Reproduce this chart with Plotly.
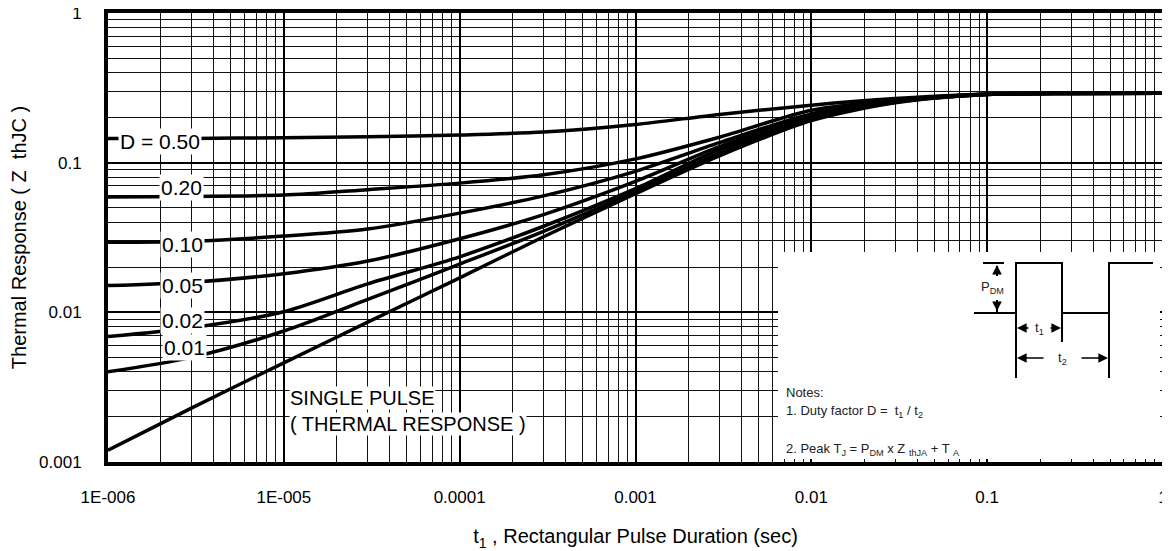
import plotly.graph_objects as go

# ---------------- data ----------------
t_sec = [1e-6, 3e-6, 1e-5, 3e-5, 1e-4, 3e-4, 1e-3, 3e-3, 1e-2, 3e-2, 1e-1, 3e-1, 1.0]

z_d050 = [0.145, 0.145, 0.147, 0.149, 0.153, 0.160, 0.180, 0.210, 0.242, 0.268, 0.288, 0.291, 0.291]
z_d020 = [0.059, 0.0595, 0.0607, 0.066, 0.073, 0.083, 0.106, 0.148, 0.224, 0.262, 0.287, 0.291, 0.291]
z_d010 = [0.0294, 0.0299, 0.0323, 0.036, 0.046, 0.060, 0.0875, 0.136, 0.212, 0.259, 0.286, 0.290, 0.291]
z_d005 = [0.0151, 0.0159, 0.0181, 0.022, 0.031, 0.045, 0.075, 0.128, 0.205, 0.257, 0.286, 0.290, 0.291]
z_d002 = [0.0069, 0.0079, 0.0101, 0.0155, 0.0235, 0.0376, 0.067, 0.122, 0.199, 0.255, 0.285, 0.290, 0.291]
z_d001 = [0.0040, 0.0050, 0.0075, 0.0122, 0.021, 0.0348, 0.064, 0.116, 0.195, 0.253, 0.285, 0.290, 0.291]
z_single = [0.0012, 0.0023, 0.0046, 0.0086, 0.017, 0.032, 0.062, 0.111, 0.191, 0.251, 0.285, 0.290, 0.291]

series = [("D = 0.50", z_d050), ("0.20", z_d020), ("0.10", z_d010), ("0.05", z_d005),
          ("0.02", z_d002), ("0.01", z_d001), ("SINGLE PULSE", z_single)]

x_tickvals = [1e-6, 1e-5, 1e-4, 1e-3, 1e-2, 1e-1, 1]
x_ticktext = ["1E-006", "1E-005", "0.0001", "0.001", "0.01", "0.1", "1"]
y_tickvals = [0.001, 0.01, 0.1, 1]
y_ticktext = ["0.001", "0.01", "0.1", "1"]

x_minor = [m * 10 ** e for e in range(-6, 0) for m in range(2, 10)]
y_minor = [m * 10 ** e for e in range(-3, 0) for m in range(2, 10)]

FONT = "Arial, Liberation Sans, sans-serif"

# page body has an 8px margin: shrink the figure and shift everything accordingly
OFF = 8
W, H = 1170 - OFF, 551 - OFF
L, R, T, B = 108 - OFF, 1163 - OFF, 13 - OFF, 462 - OFF

# ---------------- figure ----------------
fig = go.Figure()
for name, z in series:
    fig.add_trace(go.Scatter(x=t_sec, y=z, mode="lines", name=name,
                             line=dict(color="black", width=3.5, shape="spline", smoothing=0.8),
                             showlegend=False, hoverinfo="skip"))


def px(xp, yp):
    """reference-screen pixel -> paper fraction"""
    xp -= OFF
    yp -= OFF
    return (xp - L) / (R - L), (B - yp) / (B - T)


fig.update_layout(
    width=W, height=H,
    margin=dict(l=L, r=W - R, t=T, b=H - B, autoexpand=False),
    paper_bgcolor="white", plot_bgcolor="white",
    font=dict(family=FONT, size=17, color="black"),
)

fig.update_xaxes(
    type="log", range=[-6, 0.00001], automargin=False, ticklabeloverflow="allow",
    tickmode="array", tickvals=x_tickvals, ticktext=x_ticktext,
    ticks="outside", ticklen=17, tickcolor="rgba(0,0,0,0)",
    tickfont=dict(size=17),
    showgrid=True, gridcolor="black", gridwidth=2,
    minor=dict(tickmode="array", tickvals=x_minor, showgrid=True, gridcolor="#111", gridwidth=1.2, ticks=""),
    showline=True, linecolor="black", linewidth=4, mirror=True,
    title=dict(text="t<sub>1</sub> , Rectangular Pulse Duration (sec)", font=dict(size=20), standoff=24),
    zeroline=False,
)
fig.update_yaxes(
    type="log", range=[-3, 0.00001], automargin=False, ticklabeloverflow="allow",
    tickmode="array", tickvals=y_tickvals, ticktext=y_ticktext,
    ticks="outside", ticklen=19, tickcolor="rgba(0,0,0,0)",
    tickfont=dict(size=17),
    showgrid=True, gridcolor="black", gridwidth=2,
    minor=dict(tickmode="array", tickvals=y_minor, showgrid=True, gridcolor="#111", gridwidth=1.2, ticks=""),
    showline=True, linecolor="black", linewidth=4, mirror=True,
    title=dict(text="Thermal Response ( Z  thJC )", font=dict(size=20), standoff=10),
    zeroline=False,
)

# ---- curve labels (white boxed text) ----
labels = [("D = 0.50", 118, 141), ("0.20", 159, 188), ("0.10", 160, 245), ("0.05", 160, 285),
          ("0.02", 160, 320), ("0.01", 162, 347)]
for txt, xl, yc in labels:
    xp, yp = px(xl, yc)
    fig.add_annotation(x=xp, y=yp, xref="paper", yref="paper", text=txt, showarrow=False,
                       xanchor="left", yanchor="middle", bgcolor="white", borderpad=1,
                       font=dict(size=21, family=FONT))

for txt, yc in [("SINGLE PULSE", 398), ("( THERMAL RESPONSE )", 424)]:
    xp, yp = px(289, yc)
    fig.add_annotation(x=xp, y=yp, xref="paper", yref="paper", text=txt, showarrow=False,
                       xanchor="left", yanchor="middle", bgcolor="white", borderpad=0,
                       font=dict(size=20, family=FONT))

# ---- inset (white box with pulse sketch and notes) ----
x0, y0 = px(778, 252)
x1, y1 = px(1160, 459)
fig.add_shape(type="rect", xref="paper", yref="paper", x0=x0, y0=y1, x1=x1, y1=y0,
              fillcolor="white", line=dict(width=0), layer="above")


def seg(pts, w=2):
    path = ""
    for i, (a, b) in enumerate(pts):
        xp, yp = px(a, b)
        path += ("M" if i == 0 else "L") + f"{xp},{yp} "
    fig.add_shape(type="path", xref="paper", yref="paper", path=path,
                  line=dict(color="black", width=w), layer="above")


# square wave
seg([(974, 313), (1016, 313), (1016, 263), (1062, 263), (1062, 313), (1109, 313), (1109, 263), (1153, 263)])
# P_DM marker
seg([(983, 263), (1004, 263)])
seg([(997, 266), (997, 276)])
seg([(997, 300), (997, 313)])
# t1/t2 extension lines
seg([(1016, 313), (1016, 378)])
seg([(1062, 313), (1062, 342)])
seg([(1109, 313), (1109, 378)])


def arrow(xa, ya, xt, yt):
    xp, yp = px(xt, yt)
    fig.add_annotation(x=xp, y=yp, xref="paper", yref="paper", ax=xa - xt, ay=ya - yt,
                       axref="pixel", ayref="pixel", text="", showarrow=True,
                       arrowhead=2, arrowsize=1.2, arrowwidth=1.6, arrowcolor="black")


arrow(997, 276, 997, 265)
arrow(997, 300, 997, 311)
arrow(1030, 328, 1017, 328)
arrow(1049, 328, 1061, 328)
arrow(1045, 358, 1017, 358)
arrow(1080, 358, 1108, 358)


def note(txt, xl, yc, size=13, anchor="left"):
    xp, yp = px(xl, yc)
    fig.add_annotation(x=xp, y=yp, xref="paper", yref="paper", text=txt, showarrow=False,
                       xanchor=anchor, yanchor="middle", font=dict(size=size, family=FONT, color="#222"))


note("P<sub>DM</sub>", 979, 287, 13)
note("t<sub>1</sub>", 1039, 328, 13, "center")
note("t<sub>2</sub>", 1062, 358, 13, "center")
note("Notes:", 784, 392)
note("1. Duty factor D =  t<sub>1</sub> / t<sub>2</sub>", 784, 411)
note("2. Peak T<sub>J</sub> = P<sub>DM</sub> x Z <sub>thJA</sub> + T <sub>A</sub>", 784, 449)

fig.write_html("out.html")
